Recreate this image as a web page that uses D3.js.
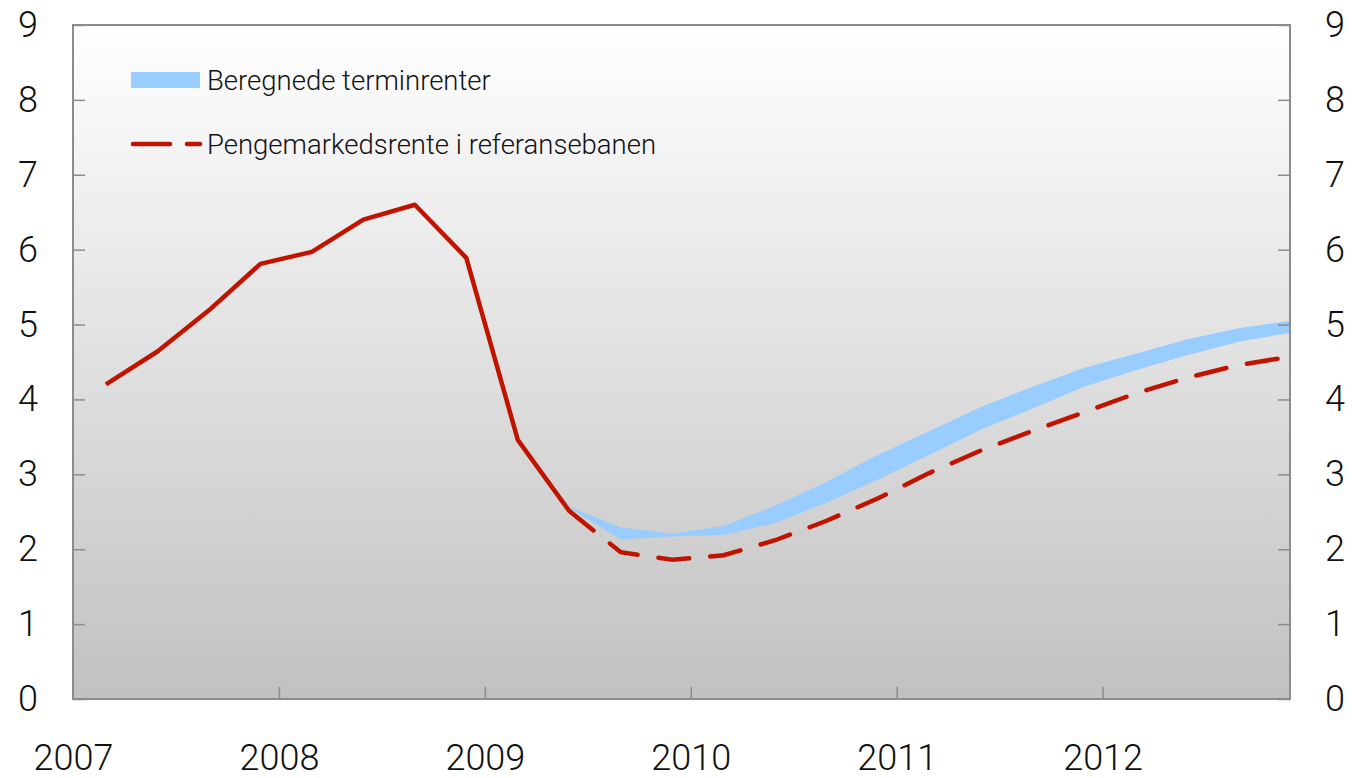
<!DOCTYPE html>
<html>
<head>
<meta charset="utf-8">
<script src="https://cdn.jsdelivr.net/npm/d3@7"></script>
<style>
  html, body { margin: 0; padding: 0; background: #fff; }
  svg { display: block; font-family: Roboto, "Liberation Sans", sans-serif; font-weight: 300; }
</style>
</head>
<body>
<svg width="1352" height="778"></svg>
<script>
'use strict';

// quarters 2007 K1 .. 2012 K4
var quarters = ['2007K1','2007K2','2007K3','2007K4','2008K1','2008K2','2008K3','2008K4',
  '2009K1','2009K2','2009K3','2009K4','2010K1','2010K2','2010K3','2010K4',
  '2011K1','2011K2','2011K3','2011K4','2012K1','2012K2','2012K3','2012K4'];

// historical money market rate (2007K1 - 2009K2)
var historisk = [4.20, 4.64, 5.19, 5.81, 5.97, 6.40, 6.60, 5.89, 3.46, 2.51];

// reference path (2009K2 - 2012K4)
var referanse = [2.51, 1.96, 1.86, 1.92, 2.12, 2.38, 2.68, 3.02, 3.32, 3.58, 3.83, 4.08, 4.29, 4.46, 4.57];

// calculated forward rates, lower and upper edge (2009K2 - 2012K4)
var terminLav = [2.55, 2.13, 2.17, 2.19, 2.35, 2.62, 2.93, 3.26, 3.60, 3.88, 4.17, 4.39, 4.59, 4.77, 4.89];
var terminHoy = [2.57, 2.29, 2.21, 2.31, 2.58, 2.90, 3.26, 3.58, 3.90, 4.17, 4.42, 4.61, 4.80, 4.95, 5.05];

var yearLabels = ['2007', '2008', '2009', '2010', '2011', '2012'];
var yTicks = [0, 1, 2, 3, 4, 5, 6, 7, 8, 9];

var legendLabels = ['Beregnede terminrenter', 'Pengemarkedsrente i referansebanen'];

var red = '#c01400';
var blue = '#99ccff';

var svg = d3.select('svg');
var margin = {top: 25, right: 62, bottom: 79, left: 73};
var width = 1352 - margin.left - margin.right;
var height = 778 - margin.top - margin.bottom;

// time in decimal years, points sit a bit into each quarter
function qTime(q) {
  return +q.slice(0, 4) + (+q.slice(5) - 1) * 0.25 + 0.16;
}

var x = d3.scaleLinear().domain([2007, qTime('2012K4')]).range([0, width]);
var y = d3.scaleLinear().domain([0, 9]).range([height, 0]);

var defs = svg.append('defs');
var grad = defs.append('linearGradient')
  .attr('id', 'bg').attr('x1', 0).attr('y1', 0).attr('x2', 0).attr('y2', 1);
grad.append('stop').attr('offset', '0%').attr('stop-color', '#ffffff');
grad.append('stop').attr('offset', '100%').attr('stop-color', '#c1c1c1');

var g = svg.append('g')
  .attr('transform', 'translate(' + margin.left + ',' + margin.top + ')');

g.append('rect')
  .attr('width', width).attr('height', height)
  .attr('fill', 'url(#bg)');

// forward-rate band
var fcQuarters = quarters.slice(historisk.length - 1);
var band = fcQuarters.map(function(q, i) {
  return {t: qTime(q), lo: terminLav[i], hi: terminHoy[i]};
});
g.append('path')
  .datum(band)
  .attr('fill', blue)
  .attr('d', d3.area()
    .x(function(d) { return x(d.t); })
    .y0(function(d) { return y(d.lo); })
    .y1(function(d) { return y(d.hi); }));

// lines
var line = d3.line()
  .x(function(d) { return x(d.t); })
  .y(function(d) { return y(d.v); });

var hist = historisk.map(function(v, i) { return {t: qTime(quarters[i]), v: v}; });
var ref = referanse.map(function(v, i) { return {t: qTime(fcQuarters[i]), v: v}; });

g.append('path')
  .datum(ref)
  .attr('fill', 'none')
  .attr('stroke', red)
  .attr('stroke-width', 4.5)
  .attr('stroke-linecap', 'round')
  .attr('stroke-dasharray', '31,21')
  .attr('d', line);

g.append('path')
  .datum(hist)
  .attr('fill', 'none')
  .attr('stroke', red)
  .attr('stroke-width', 4.5)
  .attr('stroke-linejoin', 'round')
  .attr('d', line);

// frame
g.append('rect')
  .attr('width', width).attr('height', height)
  .attr('fill', 'none')
  .attr('stroke', '#8c8c8c')
  .attr('stroke-width', 2);

// axes
var years = yearLabels.map(Number);
var xAxis = d3.axisBottom(x)
  .tickValues(years)
  .tickFormat(d3.format('d'))
  .tickSizeInner(-12)
  .tickSizeOuter(0)
  .tickPadding(45);
var gx = g.append('g')
  .attr('transform', 'translate(0,' + height + ')')
  .call(xAxis);

var gyl = g.append('g')
  .call(d3.axisLeft(y).tickValues(yTicks).tickSizeInner(-12).tickSizeOuter(0).tickPadding(30));
var gyr = g.append('g')
  .attr('transform', 'translate(' + width + ',0)')
  .call(d3.axisRight(y).tickValues(yTicks).tickSizeInner(-12).tickSizeOuter(0).tickPadding(32));

[gx, gyl, gyr].forEach(function(a) {
  a.select('.domain').remove();
  a.selectAll('.tick line').attr('stroke', '#8c8c8c').attr('stroke-width', 1.5);
  a.selectAll('.tick text')
    .attr('fill', '#111')
    .style('font-family', 'Roboto, sans-serif')
    .style('font-weight', 300)
    .style('font-size', '36px');
});
gx.selectAll('.tick line').filter(function(d) { return d === 2007; }).remove();
gyl.selectAll('.tick text').attr('text-anchor', 'middle').attr('x', -45);
gyr.selectAll('.tick text').attr('text-anchor', 'middle').attr('x', 45);

// legend
var legend = svg.append('g').attr('transform', 'translate(131,0)');
legend.append('rect')
  .attr('x', 0).attr('y', 72)
  .attr('width', 69).attr('height', 16)
  .attr('fill', blue);
legend.append('line')
  .attr('x1', 2).attr('x2', 69)
  .attr('y1', 144).attr('y2', 144)
  .attr('stroke', red)
  .attr('stroke-width', 4.5)
  .attr('stroke-linecap', 'round')
  .attr('stroke-dasharray', '37,17');

legend.selectAll('text.leg')
  .data(legendLabels)
  .enter()
  .append('text')
  .attr('class', 'leg')
  .attr('x', 76)
  .attr('y', function(d, i) { return 80 + i * 64; })
  .attr('dy', '0.35em')
  .attr('fill', '#111')
  .style('font-size', '27.5px')
  .text(function(d) { return d; });
</script>
</body>
</html>
